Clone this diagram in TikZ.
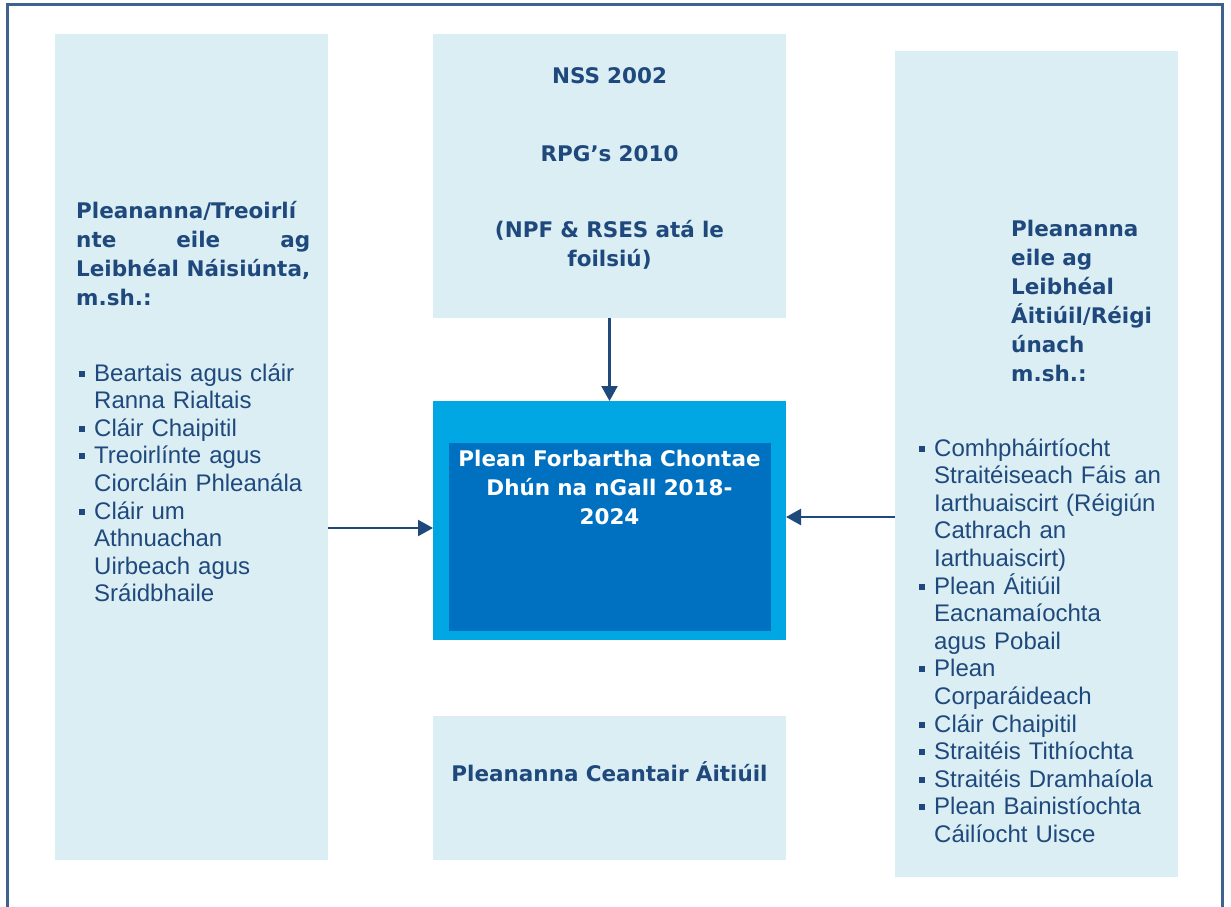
\documentclass[tikz,border=0pt]{standalone}
\usepackage{fontspec}
\setmainfont{Liberation Sans}
\newfontfamily\headfont{DejaVu Sans}
\usetikzlibrary{positioning,arrows.meta}

\definecolor{paleblue}{HTML}{DAEEF3}
\definecolor{navytext}{HTML}{1F497D}
\definecolor{skyblue}{HTML}{00A7E2}
\definecolor{planblue}{HTML}{0070C0}
\definecolor{framecol}{HTML}{3E6190}

\newcommand{\blt}{\makebox[15pt][l]{\rule[4.5pt]{6pt}{6pt}}}
\newcommand{\ind}{\hspace*{15pt}}

\begin{document}
\begin{tikzpicture}[x=1pt, y=-1pt,
  panel/.style={rectangle, fill=paleblue, inner sep=0pt, outer sep=0pt},
  head/.style={font=\headfont\bfseries\fontsize{21.5}{29}\selectfont, text=navytext, inner sep=0pt},
  items/.style={font=\fontsize{24}{27.6}\selectfont, text=navytext, inner sep=0pt, align=left, anchor=base west},
  arr/.style={-{Triangle[length=15pt,width=16pt]}, draw=navytext, line width=2.3pt},
  node distance=83pt
]
\useasboundingbox (0,0) rectangle (1231,906);
\clip (0,0) rectangle (1231,906);
\fill[white] (0,0) rectangle (1231,906);
\draw[framecol, line width=2.2pt] (7.5,4.5) rectangle (1222.5,940);

% Boxes
\node[panel, minimum width=273pt, minimum height=826pt] (national) at (191.5,447) {};
\node[panel, minimum width=353pt, minimum height=284pt] (nss) at (609.5,176) {};
\node[rectangle, fill=skyblue, inner sep=0pt, outer sep=0pt, minimum width=353pt, minimum height=239pt, below=of nss] (cdp) {};
\node[rectangle, fill=planblue, inner sep=0pt, minimum width=322pt, minimum height=188pt] (cdpin) at (610,537) {};
\node[panel, minimum width=353pt, minimum height=144pt, below=76pt of cdp] (lap) {};
\node[panel, minimum width=283pt, minimum height=826pt] (regional) at (1036.5,464) {};

% Texts
\node[head, anchor=base, align=center, text width=340pt] (nsstext) at (609.5,83)
  {NSS 2002\\[49pt] RPG’s 2010\\[47pt] (NPF \& RSES atá le\\ foilsiú)};
\node[head, anchor=base, align=center, text width=320pt, text=white] (cdptext) at (609.5,466)
  {Plean Forbartha Chontae\\ Dhún na nGall 2018-\\ 2024};
\node[head, anchor=base, align=center, text width=340pt] (laptext) at (609.5,781)
  {Pleananna Ceantair Áitiúil};
\node[head, anchor=base west, align=left, text width=234pt] (nathead) at (76,218)
  {Pleananna/Treoirlí\\ nte\hfill eile\hfill ag\\ Leibhéal\hfill Náisiúnta,\\ m.sh.:};
\node[items, text width=240pt] (natlist) at (79,381)
  {\blt Beartais agus cláir\\ \ind Ranna Rialtais\\ \blt Cláir Chaipitil\\
   \blt Treoirlínte agus\\ \ind Ciorcláin Phleanála\\ \blt Cláir um\\
   \ind Athnuachan\\ \ind Uirbeach agus\\ \ind Sráidbhaile};
\node[head, anchor=base west, align=left, text width=165pt] (reghead) at (1011,236)
  {Pleananna\\ eile ag\\ Leibhéal\\ Áitiúil/Réigi\\ únach\\ m.sh.:};
\node[items, text width=255pt] (reglist) at (919,456)
  {\blt Comhpháirtíocht\\ \ind Straitéiseach Fáis an\\ \ind Iarthuaiscirt (Réigiún\\
   \ind Cathrach an\\ \ind Iarthuaiscirt)\\ \blt Plean Áitiúil\\ \ind Eacnamaíochta\\
   \ind agus Pobail\\ \blt Plean\\ \ind Corparáideach\\ \blt Cláir Chaipitil\\
   \blt Straitéis Tithíochta\\ \blt Straitéis Dramhaíola\\ \blt Plean Bainistíochta\\
   \ind Cáilíocht Uisce};

% Arrows into the plan
\draw[arr] (nss.south) -- (cdp.north);
\draw[arr] (national.east |- 0,528) -- (cdp.west |- 0,528);
\draw[arr] (regional.west |- 0,517) -- (cdp.east |- 0,517);
\end{tikzpicture}
\end{document}
